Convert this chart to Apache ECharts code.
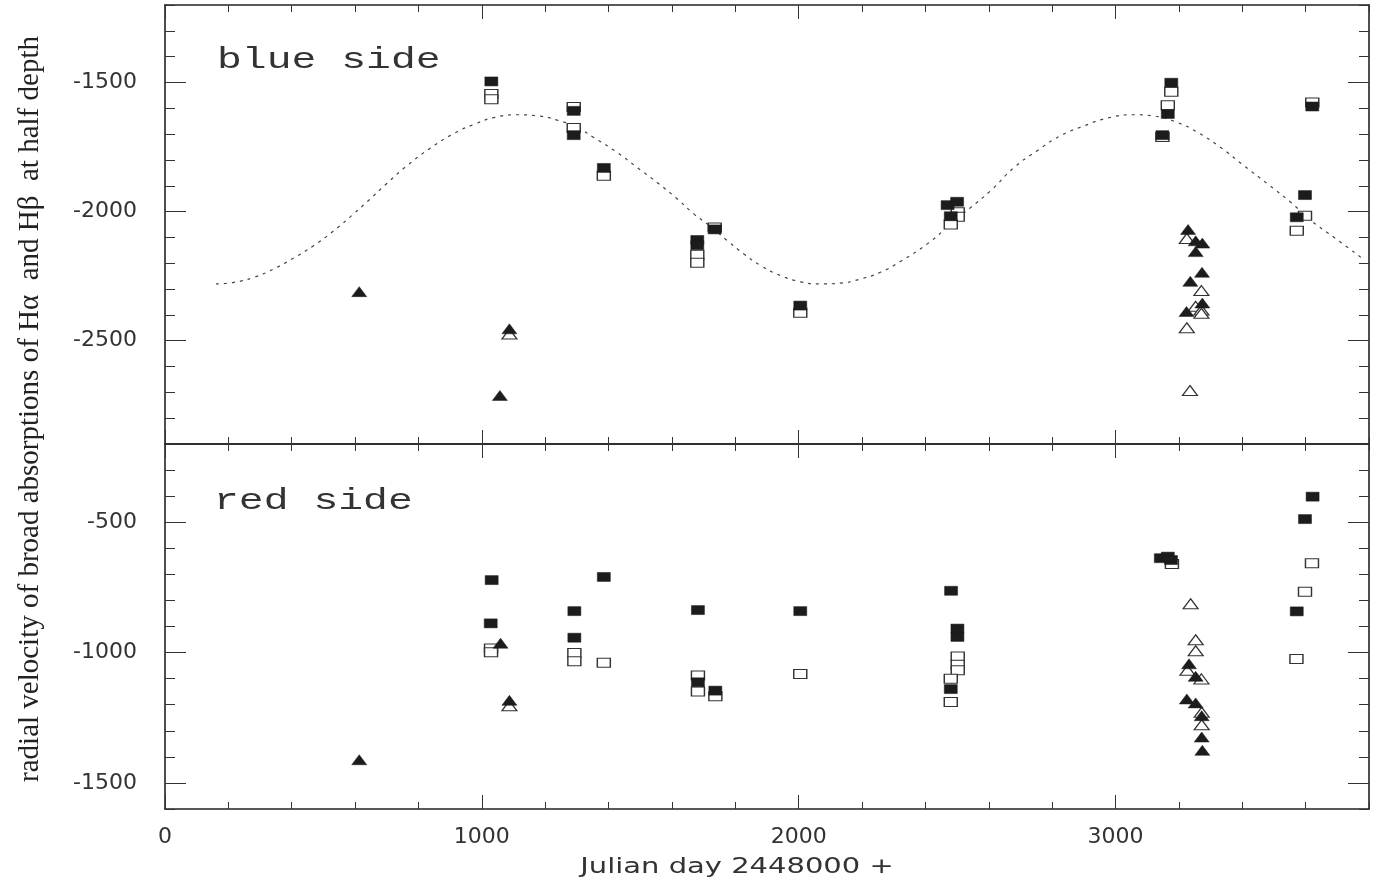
<!DOCTYPE html>
<html>
<head>
<meta charset="utf-8">
<script src="https://cdn.jsdelivr.net/npm/echarts@6/dist/echarts.min.js"></script>
<style>html,body{margin:0;padding:0;background:#fff}#c{width:1385px;height:883px}</style>
</head>
<body>
<div id="c"></div>
<script>
// ---- data ----
const xMajorTicks = [0, 1000, 2000, 3000];
const blueMajorTicks = [-2500, -2000, -1500];
const redMajorTicks = [-1500, -1000, -500];

const curveX = [161,217,280,343,406,469,532,596,638,701,764,838,911,980,1038,1111,1180,1238,1301,1353,1427,1490,1553,1617,1669,1722,1775,1827,1880,1943,2006,2069,2132,2195,2258,2321,2406,2480,2543,2606,2680,2753,2827,2901,2974,3058,3122,3195,3259,3332,3406,3480,3553,3617,3690,3785];
const curveY = [-2280,-2274,-2255,-2222,-2180,-2132,-2075,-2008,-1962,-1890,-1822,-1754,-1698,-1660,-1636,-1625,-1630,-1646,-1674,-1713,-1771,-1829,-1887,-1951,-2009,-2058,-2113,-2164,-2209,-2248,-2272,-2280,-2277,-2261,-2235,-2193,-2125,-2048,-1984,-1919,-1829,-1764,-1706,-1668,-1638,-1625,-1630,-1655,-1693,-1752,-1823,-1893,-1964,-2035,-2100,-2187];

const blueFilledSq = [[1030,-1496],[1290,-1610],[1290,-1704],[1385,-1831],[1680,-2110],[1680,-2130],[1735,-2069],[2005,-2364],[2470,-1975],[2500,-1962],[2480,-2018],[3176,-1501],[3165,-1622],[3148,-1704],[3621,-1593],[3598,-1936],[3572,-2022]];
const blueOpenSq = [[1030,-1545],[1030,-1565],[1290,-1595],[1290,-1676],[1385,-1861],[1735,-2062],[1680,-2167],[1680,-2198],[2005,-2392],[2502,-2003],[2502,-2020],[2480,-2050],[3176,-1536],[3165,-1588],[3148,-1711],[3621,-1578],[3598,-2016],[3572,-2074]];
const blueFilledTri = [[613,-2310],[1087,-2454],[1057,-2712],[3229,-2069],[3253,-2113],[3274,-2122],[3253,-2155],[3273,-2235],[3236,-2270],[3274,-2354],[3224,-2387]];
const blueOpenTri = [[1087,-2474],[3225,-2104],[3271,-2306],[3253,-2367],[3271,-2381],[3271,-2394],[3225,-2450],[3235,-2693]];

const redFilledSq = [[1031,-722],[1028,-888],[1292,-841],[1292,-943],[1385,-710],[1682,-837],[1682,-1114],[1737,-1146],[2005,-841],[2481,-763],[2501,-908],[2501,-940],[2480,-1140],[3143,-638],[3165,-632],[3175,-645],[3622,-402],[3598,-488],[3572,-842]];
const redOpenSq = [[1029,-984],[1029,-999],[1292,-1002],[1292,-1033],[1385,-1039],[1682,-1088],[1682,-1149],[1737,-1168],[2005,-1082],[2502,-1015],[2502,-1047],[2502,-1068],[2480,-1100],[2480,-1190],[3178,-660],[3620,-657],[3598,-767],[3571,-1025]];
const redFilledTri = [[613,-1411],[1059,-964],[1087,-1183],[3232,-1043],[3253,-1091],[3225,-1178],[3253,-1193],[3272,-1242],[3272,-1324],[3274,-1375]];
const redOpenTri = [[1087,-1204],[3237,-813],[3253,-951],[3253,-993],[3227,-1068],[3271,-1101],[3272,-1229],[3272,-1277]];

const yTitle = 'radial velocity of broad absorptions of H\u03b1  and H\u03b2  at half depth';
const xTitle = 'Julian day 2448000 +';

// ---- chart ----
const chart = echarts.init(document.getElementById('c'), null, {renderer: 'canvas'});
const AX = '#222', TK = '#333';
const labelFont = {fontFamily: 'DejaVu Sans', fontSize: 22, color: '#333', formatter: v => String(v)};
const L = 165, W = 1204;
const grids = [
  {left: L, top: 5, width: W, height: 439},
  {left: L, top: 5, width: W, height: 439},
  {left: L, top: 444, width: W, height: 365},
  {left: L, top: 444, width: W, height: 365}
];
function xMinor(g, pos) {
  return {type: 'value', gridIndex: g, position: pos, min: 0, max: 3800, interval: 200,
    axisLine: {show: true, onZero: false, lineStyle: {color: AX, width: 1.6}},
    axisTick: {show: true, inside: true, length: 7, lineStyle: {color: TK, width: 1}},
    axisLabel: {show: false}, splitLine: {show: false}};
}
function xMajor(g, pos, labels) {
  return {type: 'value', gridIndex: g, position: pos, min: 0, max: 3800,
    axisLine: {show: false, onZero: false},
    axisTick: {show: true, inside: true, length: 14, customValues: xMajorTicks, lineStyle: {color: TK, width: 1}},
    axisLabel: Object.assign({show: labels, customValues: xMajorTicks, margin: 17}, labelFont),
    splitLine: {show: false}};
}
function yMinor(g, pos, mn, mx) {
  return {type: 'value', gridIndex: g, position: pos, min: mn, max: mx, interval: 100,
    axisLine: {show: true, onZero: false, lineStyle: {color: AX, width: 1.6}},
    axisTick: {show: true, inside: true, length: 10, lineStyle: {color: TK, width: 1}},
    axisLabel: {show: false}, splitLine: {show: false}};
}
function yMajor(g, pos, mn, mx, ticks, labels) {
  return {type: 'value', gridIndex: g, position: pos, min: mn, max: mx,
    axisLine: {show: false, onZero: false},
    axisTick: {show: true, inside: true, length: 21, customValues: ticks, lineStyle: {color: TK, width: 1}},
    axisLabel: Object.assign({show: labels, customValues: ticks, margin: 28}, labelFont),
    splitLine: {show: false}};
}
const xAxes = [
  xMinor(0, 'bottom'), xMinor(0, 'top'),
  xMajor(1, 'bottom', false), xMajor(1, 'top', false),
  xMinor(2, 'top'), xMinor(2, 'bottom'),
  xMajor(3, 'top', false), xMajor(3, 'bottom', true)
];
const yAxes = [
  yMinor(0, 'left', -2900, -1200), yMinor(0, 'right', -2900, -1200),
  yMajor(1, 'left', -2900, -1200, blueMajorTicks, true), yMajor(1, 'right', -2900, -1200, blueMajorTicks, false),
  yMinor(2, 'left', -1600, -200), yMinor(2, 'right', -1600, -200),
  yMajor(3, 'left', -1600, -200, redMajorTicks, true), yMajor(3, 'right', -1600, -200, redMajorTicks, false)
];

const SQ = [13, 9], TR = [15, 10];
function sc(data, xi, yi, filled, symbol, size, z) {
  return {type: 'scatter', xAxisIndex: xi, yAxisIndex: yi, data: data, symbol: symbol, symbolSize: size, z: z,
    itemStyle: filled ? {color: '#1c1c1c', borderColor: '#1c1c1c', borderWidth: 0.5, opacity: 1}
                      : {color: '#ffffff', borderColor: '#333', borderWidth: 1.2, opacity: 1},
    emphasis: {disabled: true}, silent: true};
}
const curve = curveX.map((x, i) => [x, curveY[i]]);

const option = {
  animation: false,
  backgroundColor: '#fff',
  grid: grids,
  xAxis: xAxes,
  yAxis: yAxes,
  series: [
    {type: 'line', xAxisIndex: 0, yAxisIndex: 0, data: curve, smooth: 0.5, showSymbol: false, z: 1,
      lineStyle: {color: '#444', width: 1.2, type: [3, 5]}, silent: true},
    sc(blueOpenSq, 0, 0, false, 'rect', SQ, 2),
    sc(blueFilledSq, 0, 0, true, 'rect', SQ, 3),
    sc(blueOpenTri, 0, 0, false, 'triangle', TR, 4),
    sc(blueFilledTri, 0, 0, true, 'triangle', TR, 5),
    sc(redOpenSq, 4, 4, false, 'rect', SQ, 2),
    sc(redFilledSq, 4, 4, true, 'rect', SQ, 3),
    sc(redOpenTri, 4, 4, false, 'triangle', TR, 4),
    sc(redFilledTri, 4, 4, true, 'triangle', TR, 5)
  ],
  graphic: [
    {type: 'text', x: 217, y: 45, scaleX: 1.38, style: {text: 'blue side', x: 0, y: 0, fill: '#333',
      font: '30px "Liberation Mono"', textVerticalAlign: 'top'}},
    {type: 'text', x: 214, y: 486, scaleX: 1.38, style: {text: 'red side', x: 0, y: 0, fill: '#333',
      font: '30px "Liberation Mono"', textVerticalAlign: 'top'}},
    {type: 'text', x: 30, y: 409, rotation: Math.PI / 2, style: {text: yTitle, x: 0, y: 0, fill: '#222',
      font: '29px "Liberation Serif"', textAlign: 'center', textVerticalAlign: 'middle'}},
    {type: 'text', x: 737, y: 868, scaleX: 1.38, originX: 0, style: {text: xTitle, x: 0, y: 0, fill: '#333',
      font: '21px "DejaVu Sans"', textAlign: 'center', textVerticalAlign: 'middle'}}
  ]
};
chart.setOption(option);
</script>
</body>
</html>
